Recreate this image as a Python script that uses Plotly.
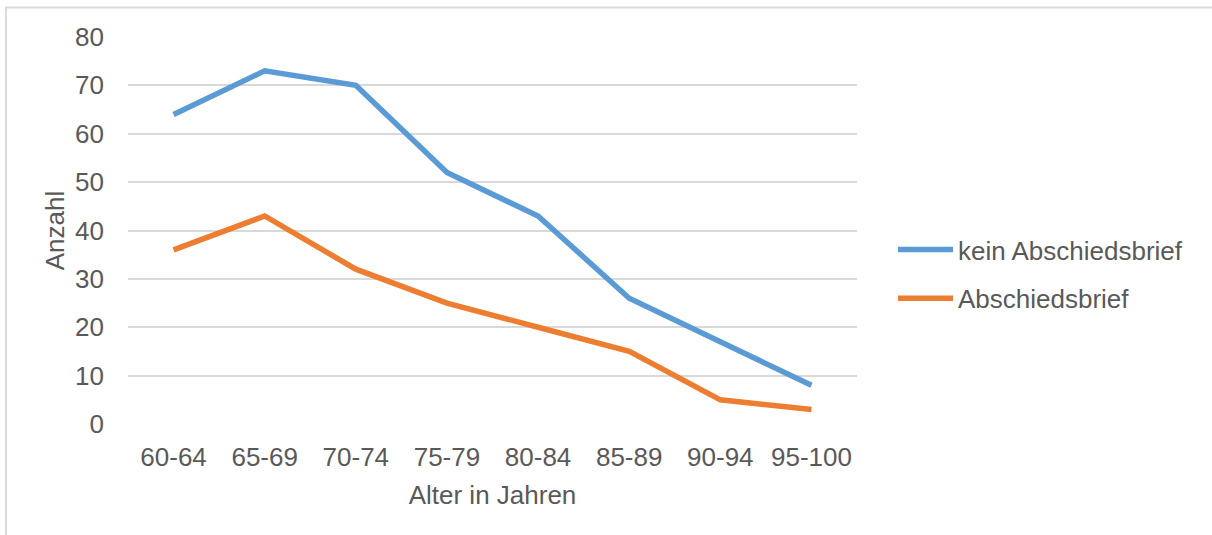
import plotly.graph_objects as go

# Altersgruppen und Anzahl der Fälle
altersgruppen = ["60-64", "65-69", "70-74", "75-79", "80-84", "85-89", "90-94", "95-100"]
kein_abschiedsbrief = [64, 73, 70, 52, 43, 26, 17, 8]
abschiedsbrief = [36, 43, 32, 25, 20, 15, 5, 3]
y_ticks = [0, 10, 20, 30, 40, 50, 60, 70, 80]

W, H = 1212, 535
L, R, T, B = 128, 355, 37, 111
plot_w = W - L - R
plot_h = H - T - B

TEXT = "#595959"
GRID = "#d9d9d9"
FONT = "Liberation Sans, Arial, sans-serif"

fig = go.Figure()
fig.add_trace(go.Scatter(
    x=altersgruppen, y=kein_abschiedsbrief, mode="lines",
    name="kein Abschiedsbrief", legendgroup="a",
    line=dict(color="#5b9bd5", width=5.5),
))
fig.add_trace(go.Scatter(
    x=altersgruppen, y=abschiedsbrief, mode="lines",
    name="Abschiedsbrief", legendgroup="b",
    line=dict(color="#ed7d31", width=5.5),
))

def px_x(p):
    return (p - L) / plot_w

def px_y(p):
    return (H - B - p) / plot_h

# outer chart frame (top and left edges visible)
fig.add_shape(type="rect", xref="paper", yref="paper",
              x0=px_x(6), x1=px_x(1260), y0=px_y(560), y1=px_y(7.5),
              line=dict(color=GRID, width=2), layer="below")

fig.update_layout(
    width=W, height=H,
    margin=dict(l=L, r=R, t=T, b=B),
    paper_bgcolor="white", plot_bgcolor="white",
    font=dict(family=FONT, size=26, color=TEXT),
    showlegend=True,
    legend=dict(
        x=px_x(893), y=px_y(226), xanchor="left", yanchor="top",
        traceorder="grouped", tracegroupgap=12,
        itemwidth=55, font=dict(size=26, color=TEXT),
        bgcolor="rgba(0,0,0,0)",
    ),
    xaxis=dict(
        type="category", range=[-0.5, len(altersgruppen) - 0.5],
        showgrid=False, zeroline=False, showline=False,
        ticks="", ticklabelstandoff=15,
        tickfont=dict(size=26, color=TEXT),
        title=dict(text="Alter in Jahren", font=dict(size=26, color=TEXT), standoff=14),
    ),
    yaxis=dict(
        range=[0, 80], tickvals=y_ticks,
        showgrid=True, gridcolor=GRID, gridwidth=2,
        zeroline=False, showline=False,
        ticks="", ticklabelstandoff=23,
        tickfont=dict(size=26, color=TEXT),
        title=dict(text="Anzahl", font=dict(size=26, color=TEXT), standoff=2),
    ),
)

fig.write_html("out.html")
